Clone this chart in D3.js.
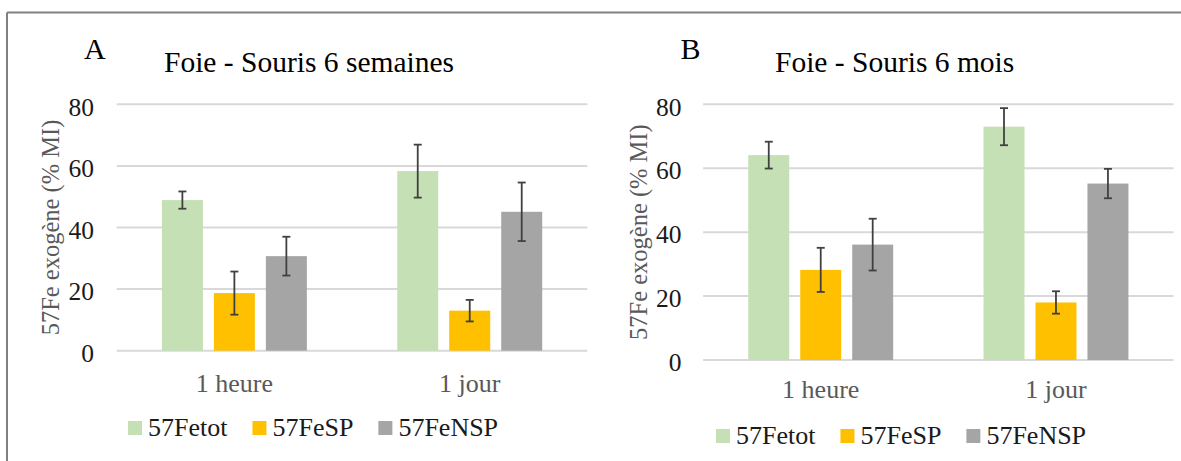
<!DOCTYPE html>
<html>
<head>
<meta charset="utf-8">
<script src="https://cdn.jsdelivr.net/npm/d3@7"></script>
<style>
  html, body { margin: 0; padding: 0; background: #fff; }
  svg { display: block; }
</style>
</head>
<body>
<svg id="chart" width="1181" height="461" font-family="Liberation Serif"></svg>
<script>
// ---- data ----
const categories = ["1 heure", "1 jour"];
const seriesNames = ["57Fetot", "57FeSP", "57FeNSP"];
const seriesColors = ["#c5e0b4", "#ffc000", "#a5a5a5"];
const yTicks = [0, 20, 40, 60, 80];

// Panel A : Foie - Souris 6 semaines
const valuesA_Fetot = [48.9, 58.3];
const valuesA_FeSP  = [18.7, 13.0];
const valuesA_FeNSP = [30.7, 45.1];
const errorsA_Fetot = [2.8, 8.6];
const errorsA_FeSP  = [7.0, 3.5];
const errorsA_FeNSP = [6.3, 9.5];

// Panel B : Foie - Souris 6 mois
const valuesB_Fetot = [64.1, 73.0];
const valuesB_FeSP  = [28.2, 18.0];
const valuesB_FeNSP = [36.1, 55.2];
const errorsB_Fetot = [4.2, 5.8];
const errorsB_FeSP  = [6.9, 3.5];
const errorsB_FeNSP = [8.1, 4.6];

const FONT = "'Liberation Serif', 'Times New Roman', serif";
const svg = d3.select("#chart");

// outer frame (top + left edges of the figure border)
svg.append("line").attr("x1", 7).attr("y1", 12.5).attr("x2", 1181).attr("y2", 12.5)
  .attr("stroke", "#808080").attr("stroke-width", 2);
svg.append("line").attr("x1", 7).attr("y1", 12.5).attr("x2", 7).attr("y2", 461)
  .attr("stroke", "#808080").attr("stroke-width", 2);

function txt(sel) {
  return sel.style("font-family", FONT);
}

function drawPanel(cfg) {
  const g = svg.append("g");
  const x = d3.scaleBand().domain(categories).range([cfg.x0, cfg.x1]).padding(0);
  const groupW = x.bandwidth() * 0.616;
  const xs = d3.scaleBand().domain(seriesNames).range([-groupW / 2, groupW / 2])
    .paddingInner(0.2115).paddingOuter(0);
  const y = d3.scaleLinear().domain([0, 80]).range([cfg.y0, cfg.y80]);

  // gridlines
  g.append("g").selectAll("line").data(yTicks).join("line")
    .attr("x1", cfg.x0).attr("x2", cfg.x1)
    .attr("y1", d => y(d)).attr("y2", d => y(d))
    .attr("stroke", "#d9d9d9").attr("stroke-width", 2);

  // y axis tick labels via d3 axis
  const yAxis = d3.axisLeft(y).tickValues(yTicks).tickSize(0).tickPadding(0);
  const ya = g.append("g").attr("transform", `translate(${cfg.tickRight},0)`).call(yAxis);
  ya.select(".domain").remove();
  txt(ya.selectAll("text"))
    .attr("font-size", 25.5)
    .attr("fill", "#1a1a1a").attr("dy", "0.42em");

  // x axis labels via d3 axis
  const xAxis = d3.axisBottom(x).tickSize(0).tickPadding(0);
  const xa = g.append("g").attr("transform", `translate(0,${cfg.xLabelBase})`).call(xAxis);
  xa.select(".domain").remove();
  txt(xa.selectAll("text"))
    .attr("font-size", 26)
    .attr("fill", "#595959").attr("dy", 0).attr("y", 0);

  // bars
  cfg.values.forEach((vals, si) => {
    const name = seriesNames[si];
    const errs = cfg.errors[si];
    const sg = g.append("g");
    sg.selectAll("rect").data(vals).join("rect")
      .attr("x", (d, i) => x(categories[i]) + x.bandwidth() / 2 + xs(name))
      .attr("width", xs.bandwidth())
      .attr("y", d => y(d))
      .attr("height", d => y(0) - y(d))
      .attr("fill", seriesColors[si]);
    // error bars
    const eb = sg.selectAll("g.err").data(vals).join("g").attr("class", "err")
      .attr("transform", (d, i) => `translate(${x(categories[i]) + x.bandwidth() / 2 + xs(name) + xs.bandwidth() / 2},0)`);
    eb.append("line").attr("x1", 0).attr("x2", 0)
      .attr("y1", (d, i) => y(d + errs[i])).attr("y2", (d, i) => y(d - errs[i]))
      .attr("stroke", "#404040").attr("stroke-width", 1.8);
    eb.append("line").attr("x1", -4).attr("x2", 4)
      .attr("y1", (d, i) => y(d + errs[i])).attr("y2", (d, i) => y(d + errs[i]))
      .attr("stroke", "#404040").attr("stroke-width", 1.8);
    eb.append("line").attr("x1", -4).attr("x2", 4)
      .attr("y1", (d, i) => y(d - errs[i])).attr("y2", (d, i) => y(d - errs[i]))
      .attr("stroke", "#404040").attr("stroke-width", 1.8);
  });

  // y axis title
  txt(g.append("text"))
    .attr("transform", `translate(${cfg.yTitleX},${(cfg.y0 + cfg.y80) / 2}) rotate(-90)`)
    .attr("text-anchor", "middle").attr("dominant-baseline", "central")
    .attr("font-size", 24.5).attr("fill", "#595959")
    .text("57Fe exogène (% MI)");

  // panel letter
  txt(g.append("text")).attr("x", cfg.letterX).attr("y", cfg.letterY)
    .attr("font-size", 30).attr("fill", "#000").text(cfg.letter);

  // title
  txt(g.append("text")).attr("x", cfg.titleX).attr("y", cfg.titleY)
    .attr("font-size", 29.5).attr("fill", "#000").text(cfg.title);

  // legend
  const lg = g.append("g");
  let lx = cfg.legendX;
  seriesNames.forEach((name, si) => {
    lg.append("rect").attr("x", lx).attr("y", cfg.legendY - 8)
      .attr("width", 14).attr("height", 14).attr("fill", seriesColors[si]);
    const t = txt(lg.append("text")).attr("x", lx + 20).attr("y", cfg.legendY + 7)
      .attr("font-size", 26).attr("fill", "#1a1a1a").text(name);
    const w = t.node().getComputedTextLength();
    lx = lx + 20 + w + 25;
  });
}

drawPanel({
  letter: "A", letterX: 84, letterY: 58.5,
  title: "Foie - Souris 6 semaines", titleX: 164, titleY: 72,
  x0: 116.7, x1: 587.4, y0: 350.7, y80: 104.3,
  tickRight: 94, xLabelBase: 391.5, yTitleX: 50,
  legendX: 128, legendY: 429,
  values: [valuesA_Fetot, valuesA_FeSP, valuesA_FeNSP],
  errors: [errorsA_Fetot, errorsA_FeSP, errorsA_FeNSP]
});

drawPanel({
  letter: "B", letterX: 680.5, letterY: 58.5,
  title: "Foie - Souris 6 mois", titleX: 775, titleY: 72,
  x0: 703.1, x1: 1173.6, y0: 360, y80: 104.3,
  tickRight: 681.5, xLabelBase: 398.3, yTitleX: 638,
  legendX: 716, legendY: 437,
  values: [valuesB_Fetot, valuesB_FeSP, valuesB_FeNSP],
  errors: [errorsB_Fetot, errorsB_FeSP, errorsB_FeNSP]
});
</script>
</body>
</html>
